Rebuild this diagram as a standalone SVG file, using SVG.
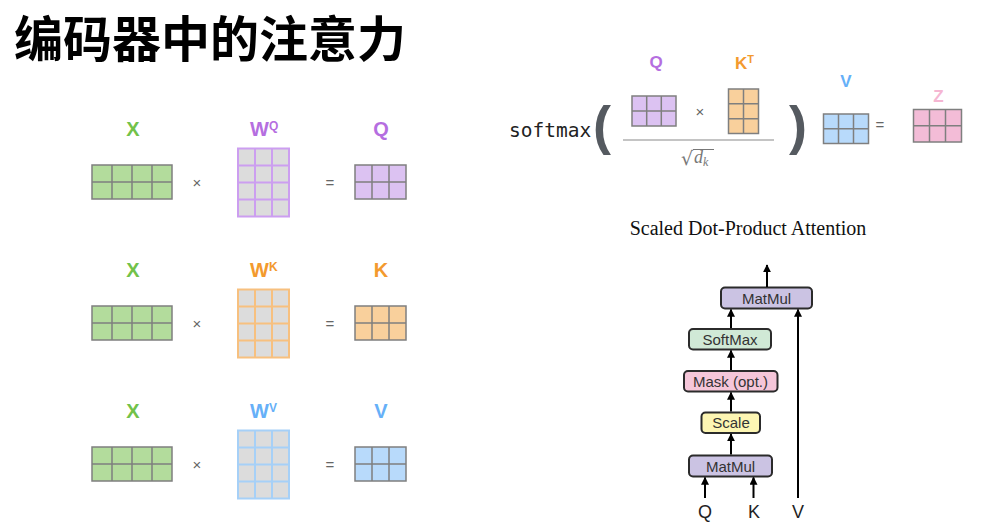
<svg xmlns="http://www.w3.org/2000/svg" xmlns:xlink="http://www.w3.org/1999/xlink" width="982" height="530" viewBox="0 0 982 530">
<style>
.title{font-family:"Noto Sans CJK SC","Noto Sans",sans-serif;font-weight:bold;font-size:49px;fill:#000}
.lbl{font-family:"Liberation Sans",Arial,sans-serif;font-weight:bold;font-size:20px;text-anchor:middle}
.lbl2{font-family:"Liberation Sans",Arial,sans-serif;font-weight:bold;font-size:17px;text-anchor:middle}
.op{font-family:"Liberation Sans",Arial,sans-serif;font-size:15px;fill:#666;text-anchor:middle}
.paren{font-family:"Liberation Sans",Arial,sans-serif;font-weight:bold;font-size:54px;fill:#555a60;text-anchor:middle}
.box{stroke:#2b2b2b;stroke-width:2}
.bt{font-family:"Liberation Sans",Arial,sans-serif;font-size:15px;fill:#333;text-anchor:middle}
.io{font-family:"Liberation Sans",Arial,sans-serif;font-size:18px;fill:#222;text-anchor:middle}
.grid{stroke:#7f7f7f;stroke-width:1.5}
.conn line{stroke:#000;stroke-width:2;marker-end:url(#ah)}
</style>
<defs>
<marker id="ah" viewBox="0 0 10 10" refX="9" refY="5" markerWidth="8" markerHeight="8" markerUnits="userSpaceOnUse" orient="auto"><path d="M0,0L10,5L0,10z" fill="#000"/></marker>
<g id="x42"><rect width="80" height="34"/><path d="M20 0V34M40 0V34M60 0V34M0 17H80" fill="none"/></g>
<g id="w34"><rect width="51" height="68" fill="#dcdcdc"/><path d="M17 0V68M34 0V68M0 17H51M0 34H51M0 51H51" fill="none"/></g>
<g id="m32"><rect width="51" height="34"/><path d="M17 0V34M34 0V34M0 17H51" fill="none"/></g>
</defs>
<rect width="982" height="530" fill="#fff"/>
<text id="title" class="title" x="14" y="57">编码器中的注意力</text>

<!-- Row Q -->
<g id="rowQ">
<text class="lbl" x="133" y="136" fill="#72c24a">X</text>
<use xlink:href="#x42" href="#x42" x="92" y="165" class="grid" fill="#b3dc9c"/>
<text class="op" x="197" y="188">×</text>
<text class="lbl" x="250" y="136" fill="#b56ee0" style="text-anchor:start">W<tspan font-size="12" dy="-6">Q</tspan></text>
<use xlink:href="#w34" href="#w34" x="238" y="148.5" stroke="#cc9ef0" stroke-width="2"/>
<text class="op" x="330" y="188">=</text>
<text class="lbl" x="381" y="136" fill="#b56ee0">Q</text>
<use xlink:href="#m32" href="#m32" x="355" y="165" class="grid" fill="#dcc2f2"/>
</g>

<!-- Row K -->
<g id="rowK" transform="translate(0,141)">
<text class="lbl" x="133" y="136" fill="#72c24a">X</text>
<use xlink:href="#x42" href="#x42" x="92" y="165" class="grid" fill="#b3dc9c"/>
<text class="op" x="197" y="188">×</text>
<text class="lbl" x="250" y="136" fill="#f39a2e" style="text-anchor:start">W<tspan font-size="12" dy="-6">K</tspan></text>
<use xlink:href="#w34" href="#w34" x="238" y="148.5" stroke="#f7c07f" stroke-width="2"/>
<text class="op" x="330" y="188">=</text>
<text class="lbl" x="381" y="136" fill="#f39a2e">K</text>
<use xlink:href="#m32" href="#m32" x="355" y="165" class="grid" fill="#f9d09c"/>
</g>

<!-- Row V -->
<g id="rowV" transform="translate(0,282)">
<text class="lbl" x="133" y="136" fill="#72c24a">X</text>
<use xlink:href="#x42" href="#x42" x="92" y="165" class="grid" fill="#b3dc9c"/>
<text class="op" x="197" y="188">×</text>
<text class="lbl" x="250" y="136" fill="#66b0f8" style="text-anchor:start">W<tspan font-size="12" dy="-6">V</tspan></text>
<use xlink:href="#w34" href="#w34" x="238" y="148.5" stroke="#a6d0f7" stroke-width="2"/>
<text class="op" x="330" y="188">=</text>
<text class="lbl" x="381" y="136" fill="#66b0f8">V</text>
<use xlink:href="#m32" href="#m32" x="355" y="165" class="grid" fill="#b8dafb"/>
</g>

<!-- Formula -->
<g id="formula">
<text x="509" y="137" font-family="'DejaVu Sans Mono','Liberation Mono',monospace" font-size="19.5" fill="#222">softmax</text>
<text class="paren" x="602" y="144">(</text>
<text class="lbl2" x="656" y="68" fill="#b56ee0">Q</text>
<g class="grid" stroke-width="1.3">
<rect x="632" y="96" width="44" height="30" fill="#dcc2f2"/>
<path d="M646.7 96V126M661.3 96V126M632 111H676" fill="none"/>
</g>
<text class="op" x="700" y="117" font-size="13">×</text>
<text class="lbl2" x="735" y="69" fill="#f39a2e" style="text-anchor:start">K<tspan font-size="11" dy="-6">T</tspan></text>
<g class="grid" stroke-width="1.3">
<rect x="728.5" y="89" width="30" height="44.5" fill="#f9d09c"/>
<path d="M743.5 89V133.5M728.5 103.8H758.5M728.5 118.7H758.5" fill="none"/>
</g>
<line x1="623" y1="140" x2="774" y2="140" stroke="#8a8a8a" stroke-width="1.2"/>
<text x="681" y="165" font-family="'DejaVu Serif','Liberation Serif',serif" font-size="19" fill="#777">√</text>
<line x1="693" y1="149.5" x2="714" y2="149.5" stroke="#777" stroke-width="1"/>
<text x="694" y="163" font-family="'Liberation Serif',serif" font-style="italic" font-size="18" fill="#777">d<tspan font-size="12" dy="3">k</tspan></text>
<text class="paren" x="798" y="144">)</text>
<text class="lbl2" x="846" y="87" fill="#66b0f8">V</text>
<g class="grid" stroke-width="1.3">
<rect x="823.5" y="114" width="45" height="29.5" fill="#b8dafb"/>
<path d="M838.5 114V143.5M853.5 114V143.5M823.5 128.7H868.5" fill="none"/>
</g>
<text class="op" x="880" y="130" font-size="13">=</text>
<text class="lbl2" x="938.5" y="102" fill="#f5b6d2">Z</text>
<g class="grid" stroke-width="1.3">
<rect x="913.5" y="109.5" width="48" height="32.5" fill="#f3bcd7"/>
<path d="M929.5 109.5V142M945.5 109.5V142M913.5 125.7H961.5" fill="none"/>
</g>
<text x="748" y="235" font-family="'Liberation Serif','Times New Roman',serif" font-size="20" fill="#111" text-anchor="middle">Scaled Dot-Product Attention</text>
</g>

<!-- Attention block diagram -->
<g id="matmul2">
<rect class="box" x="721" y="287.5" width="91" height="21" rx="4" fill="#cbc3e3"/>
<text class="bt" x="766.5" y="303.5">MatMul</text>
</g>
<g id="softmax">
<rect class="box" x="689" y="329" width="82" height="20.5" rx="4" fill="#d0e9d6"/>
<text class="bt" x="730" y="344.5">SoftMax</text>
</g>
<g id="mask">
<rect class="box" x="684" y="371" width="93.5" height="20.5" rx="4" fill="#f5c6d9"/>
<text class="bt" x="730.5" y="386.5">Mask (opt.)</text>
</g>
<g id="scale">
<rect class="box" x="701.5" y="412.5" width="58.5" height="20.5" rx="4" fill="#fdf6b3"/>
<text class="bt" x="731" y="428">Scale</text>
</g>
<g id="matmul1">
<rect class="box" x="689" y="455.5" width="83" height="21" rx="4" fill="#cbc3e3"/>
<text class="bt" x="730.5" y="471.5">MatMul</text>
</g>
<g id="inputs">
<text class="io" x="705" y="518">Q</text>
<text class="io" x="754" y="518">K</text>
<text class="io" x="798" y="518">V</text>
</g>
<g id="connectors" class="conn">
<line x1="767" y1="287" x2="767" y2="265"/>
<line x1="731" y1="328" x2="731" y2="309.5"/>
<line x1="731" y1="370" x2="731" y2="350.5"/>
<line x1="731" y1="411.5" x2="731" y2="392.5"/>
<line x1="731" y1="454.5" x2="731" y2="434"/>
<line x1="705" y1="498" x2="705" y2="477.5"/>
<line x1="753.5" y1="498" x2="753.5" y2="477.5"/>
<line x1="798" y1="498" x2="798" y2="309.5"/>
</g>
</svg>
